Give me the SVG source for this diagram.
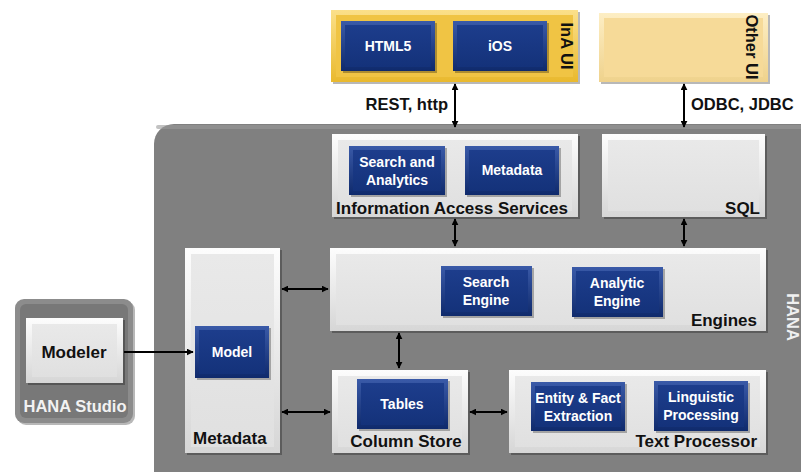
<svg xmlns="http://www.w3.org/2000/svg" width="801" height="472" viewBox="0 0 801 472">
<defs>
<linearGradient id="gLight" x1="0" y1="0" x2="0" y2="1"><stop offset="0" stop-color="#fdfdfd"/><stop offset="1" stop-color="#d6d6d6"/></linearGradient>
<linearGradient id="gLightIn" x1="0" y1="0" x2="0" y2="1"><stop offset="0" stop-color="#e9e9e9"/><stop offset="1" stop-color="#e0e0e0"/></linearGradient>
<linearGradient id="gNavy" x1="0" y1="0" x2="0" y2="1"><stop offset="0" stop-color="#3a5aa8"/><stop offset="1" stop-color="#0f2a6c"/></linearGradient>
<linearGradient id="gNavyIn" x1="0" y1="0" x2="0" y2="1"><stop offset="0" stop-color="#1d3d8c"/><stop offset="1" stop-color="#14327a"/></linearGradient>
<linearGradient id="gYel" x1="0" y1="0" x2="0" y2="1"><stop offset="0" stop-color="#fbe08a"/><stop offset="1" stop-color="#e9b92e"/></linearGradient>
<linearGradient id="gPale" x1="0" y1="0" x2="0" y2="1"><stop offset="0" stop-color="#fdeec4"/><stop offset="1" stop-color="#efd28c"/></linearGradient>
<marker id="ah" viewBox="0 0 10 10" refX="9" refY="5" markerWidth="7" markerHeight="7" markerUnits="userSpaceOnUse" orient="auto-start-reverse"><path d="M0,0 L10,5 L0,10 z" fill="#000"/></marker>
</defs>
<style>
.shadow{fill:#000;opacity:0.28}
.lo{fill:url(#gLight)}
.li{fill:url(#gLightIn)}
.no{fill:url(#gNavy)}
.ni{fill:url(#gNavyIn)}
.lbl{font-family:"Liberation Sans",Arial,sans-serif;font-weight:bold;font-size:17px;fill:#111}
.btn{font-family:"Liberation Sans",Arial,sans-serif;font-weight:bold;font-size:14px;fill:#fff;text-anchor:middle}
.side{font-family:"Liberation Sans",Arial,sans-serif;font-weight:bold;font-size:16.5px}
.conn{stroke:#000;stroke-width:2;fill:none}
</style>
<rect width="801" height="472" fill="#fff"/>

<g id="hana">
<rect x="154" y="124" width="700" height="400" rx="20" fill="#808080"/>
<rect x="156" y="125" width="696" height="4" rx="2" fill="#9a9a9a" opacity="0.6"/>
<text class="side" fill="#f0f0f0" transform="translate(787,317) rotate(90)" text-anchor="middle">HANA</text>
</g>

<g id="ina-ui">
<rect x="333" y="12" width="247" height="72" class="shadow"/>
<rect x="331" y="10" width="247" height="72" fill="url(#gYel)"/>
<rect x="336" y="15" width="237" height="62" fill="#f0c444"/>
<text class="side" fill="#111" transform="translate(561,46) rotate(90)" text-anchor="middle">InA UI</text>
</g>
<g id="html5">
<rect x="343" y="23" width="94" height="50" class="shadow"/>
<rect x="341" y="21" width="94" height="50" class="no"/>
<rect x="345" y="25" width="86" height="42" class="ni"/>
<text class="btn" x="388" y="51">HTML5</text>
</g>
<g id="ios">
<rect x="455" y="23" width="94" height="50" class="shadow"/>
<rect x="453" y="21" width="94" height="50" class="no"/>
<rect x="457" y="25" width="86" height="42" class="ni"/>
<text class="btn" x="500" y="51">iOS</text>
</g>

<g id="other-ui">
<rect x="601" y="15" width="169" height="69" class="shadow"/>
<rect x="599" y="13" width="169" height="69" fill="url(#gPale)"/>
<rect x="604" y="18" width="159" height="59" fill="#f6da98"/>
<text class="side" fill="#111" transform="translate(746,47) rotate(90)" text-anchor="middle">Other UI</text>
</g>

<g id="ias">
<rect x="334" y="136" width="246" height="83" class="shadow"/>
<rect x="332" y="134" width="246" height="83" class="lo"/>
<rect x="338" y="140" width="234" height="71" class="li"/>
<text class="lbl" x="452" y="214" text-anchor="middle">Information Access Services</text>
</g>
<g id="search-analytics">
<rect x="351" y="148" width="96" height="49" class="shadow"/>
<rect x="349" y="146" width="96" height="49" class="no"/>
<rect x="353" y="150" width="88" height="41" class="ni"/>
<text class="btn" x="397" y="167">Search and</text>
<text class="btn" x="397" y="185">Analytics</text>
</g>
<g id="ias-metadata">
<rect x="467" y="148" width="94" height="49" class="shadow"/>
<rect x="465" y="146" width="94" height="49" class="no"/>
<rect x="469" y="150" width="86" height="41" class="ni"/>
<text class="btn" x="512" y="175">Metadata</text>
</g>

<g id="sql">
<rect x="604" y="136" width="163" height="83" class="shadow"/>
<rect x="602" y="134" width="163" height="83" class="lo"/>
<rect x="608" y="140" width="151" height="71" class="li"/>
<text class="lbl" x="760" y="214" text-anchor="end">SQL</text>
</g>

<g id="engines">
<rect x="332" y="250" width="436" height="83" class="shadow"/>
<rect x="330" y="248" width="436" height="83" class="lo"/>
<rect x="336" y="254" width="424" height="71" class="li"/>
<text class="lbl" x="757" y="326" text-anchor="end">Engines</text>
</g>
<g id="search-engine">
<rect x="443" y="268" width="91" height="50" class="shadow"/>
<rect x="441" y="266" width="91" height="50" class="no"/>
<rect x="445" y="270" width="83" height="42" class="ni"/>
<text class="btn" x="486" y="287">Search</text>
<text class="btn" x="486" y="305">Engine</text>
</g>
<g id="analytic-engine">
<rect x="574" y="269" width="91" height="50" class="shadow"/>
<rect x="572" y="267" width="91" height="50" class="no"/>
<rect x="576" y="271" width="83" height="42" class="ni"/>
<text class="btn" x="617" y="288">Analytic</text>
<text class="btn" x="617" y="306">Engine</text>
</g>

<g id="column-store">
<rect x="334" y="372" width="136" height="83" class="shadow"/>
<rect x="332" y="370" width="136" height="83" class="lo"/>
<rect x="338" y="376" width="124" height="71" class="li"/>
<text class="lbl" x="406" y="447" text-anchor="middle">Column Store</text>
</g>
<g id="tables">
<rect x="359" y="381" width="91" height="50" class="shadow"/>
<rect x="357" y="379" width="91" height="50" class="no"/>
<rect x="361" y="383" width="83" height="42" class="ni"/>
<text class="btn" x="402" y="409">Tables</text>
</g>

<g id="text-processor">
<rect x="511" y="372" width="257" height="83" class="shadow"/>
<rect x="509" y="370" width="257" height="83" class="lo"/>
<rect x="515" y="376" width="245" height="71" class="li"/>
<text class="lbl" x="757" y="447" text-anchor="end">Text Processor</text>
</g>
<g id="entity-fact">
<rect x="533" y="384" width="94" height="49" class="shadow"/>
<rect x="531" y="382" width="94" height="49" class="no"/>
<rect x="535" y="386" width="86" height="41" class="ni"/>
<text class="btn" x="578" y="403">Entity &amp; Fact</text>
<text class="btn" x="578" y="421">Extraction</text>
</g>
<g id="linguistic">
<rect x="656" y="383" width="94" height="50" class="shadow"/>
<rect x="654" y="381" width="94" height="50" class="no"/>
<rect x="658" y="385" width="86" height="42" class="ni"/>
<text class="btn" x="701" y="402">Linguistic</text>
<text class="btn" x="701" y="420">Processing</text>
</g>

<g id="metadata">
<rect x="187" y="250" width="95" height="205" class="shadow"/>
<rect x="185" y="248" width="95" height="205" class="lo"/>
<rect x="191" y="254" width="83" height="193" class="li"/>
<text class="lbl" x="193" y="444">Metadata</text>
</g>
<g id="model">
<rect x="197" y="328" width="74" height="52" class="shadow"/>
<rect x="195" y="326" width="74" height="52" class="no"/>
<rect x="199" y="330" width="66" height="44" class="ni"/>
<text class="btn" x="232" y="357">Model</text>
</g>

<g id="hana-studio">
<rect x="17" y="301" width="118" height="124" rx="9" class="shadow"/>
<rect x="15" y="299" width="118" height="124" rx="9" fill="#8c8c8c"/>
<rect x="20" y="304" width="108" height="114" rx="6" fill="#787878"/>
<text class="side" fill="#f2f2f2" x="75" y="412" text-anchor="middle">HANA Studio</text>
</g>
<g id="modeler">
<rect x="28" y="320" width="97" height="65" class="shadow"/>
<rect x="26" y="318" width="97" height="65" class="lo"/>
<rect x="32" y="324" width="85" height="53" class="li"/>
<text class="lbl" x="74" y="358" text-anchor="middle" font-size="16">Modeler</text>
</g>

<g id="connectors">
<line class="conn" x1="455" y1="84" x2="455" y2="127" marker-start="url(#ah)" marker-end="url(#ah)"/>
<line class="conn" x1="684" y1="84" x2="684" y2="127" marker-start="url(#ah)" marker-end="url(#ah)"/>
<line class="conn" x1="455" y1="219" x2="455" y2="246" marker-start="url(#ah)" marker-end="url(#ah)"/>
<line class="conn" x1="684" y1="219" x2="684" y2="246" marker-start="url(#ah)" marker-end="url(#ah)"/>
<line class="conn" x1="399" y1="333" x2="399" y2="368" marker-start="url(#ah)" marker-end="url(#ah)"/>
<line class="conn" x1="470" y1="412" x2="507" y2="412" marker-start="url(#ah)" marker-end="url(#ah)"/>
<line class="conn" x1="282" y1="289" x2="328" y2="289" marker-start="url(#ah)" marker-end="url(#ah)"/>
<line class="conn" x1="282" y1="412" x2="330" y2="412" marker-start="url(#ah)" marker-end="url(#ah)"/>
<line class="conn" x1="124" y1="352" x2="193" y2="352" marker-end="url(#ah)"/>
<text class="side" fill="#111" x="448" y="110" text-anchor="end">REST, http</text>
<text class="side" fill="#111" x="691" y="110">ODBC, JDBC</text>
</g>
</svg>
